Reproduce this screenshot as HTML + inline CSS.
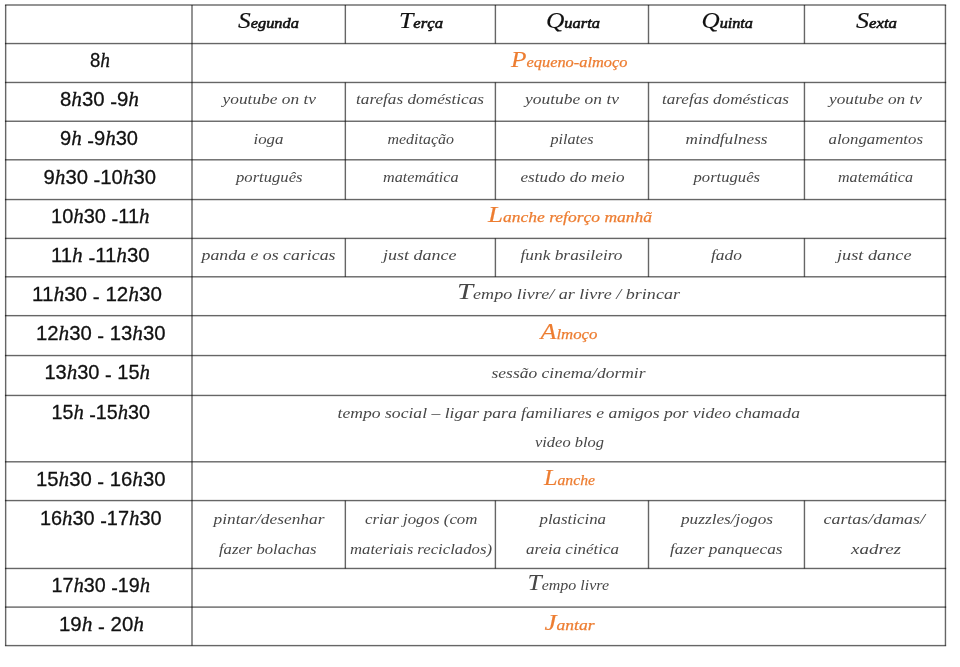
<!DOCTYPE html>
<html lang="pt"><head><meta charset="utf-8"><title>Horário</title>
<style>
html,body{margin:0;padding:0;background:#fff;}
body{width:960px;height:667px;overflow:hidden;}
svg{display:block;}
.tm{font-family:"Liberation Sans",sans-serif;font-size:21px;fill:#111;stroke:#111;stroke-width:0.3px;}
.hd{font-family:"Liberation Serif",serif;font-style:italic;font-size:15.5px;fill:#111;stroke:#111;stroke-width:0.6px;}
.bd{font-family:"Liberation Serif",serif;font-style:italic;font-size:15px;fill:#474747;}
.or{font-family:"Liberation Serif",serif;font-style:italic;font-size:15.5px;fill:#ED7D31;stroke:#ED7D31;stroke-width:0.25px;}
.cap{font-size:24px;stroke-width:0.15px;}
.hh{font-family:"Liberation Serif",serif;font-style:italic;font-size:22px;}
</style></head>
<body>
<svg width="960" height="667" viewBox="0 0 960 667">
<rect x="4.95" y="4.30" width="941.20" height="1.4" fill="#000" fill-opacity="0.6"/>
<rect x="4.95" y="42.85" width="941.20" height="1.4" fill="#000" fill-opacity="0.6"/>
<rect x="4.95" y="81.77" width="941.20" height="1.4" fill="#000" fill-opacity="0.6"/>
<rect x="4.95" y="120.55" width="941.20" height="1.4" fill="#000" fill-opacity="0.6"/>
<rect x="4.95" y="159.10" width="941.20" height="1.4" fill="#000" fill-opacity="0.6"/>
<rect x="4.95" y="198.85" width="941.20" height="1.4" fill="#000" fill-opacity="0.6"/>
<rect x="4.95" y="237.70" width="941.20" height="1.4" fill="#000" fill-opacity="0.6"/>
<rect x="4.95" y="276.10" width="941.20" height="1.4" fill="#000" fill-opacity="0.6"/>
<rect x="4.95" y="314.95" width="941.20" height="1.4" fill="#000" fill-opacity="0.6"/>
<rect x="4.95" y="354.85" width="941.20" height="1.4" fill="#000" fill-opacity="0.6"/>
<rect x="4.95" y="394.75" width="941.20" height="1.4" fill="#000" fill-opacity="0.6"/>
<rect x="4.95" y="461.10" width="941.20" height="1.4" fill="#000" fill-opacity="0.6"/>
<rect x="4.95" y="499.87" width="941.20" height="1.4" fill="#000" fill-opacity="0.6"/>
<rect x="4.95" y="567.77" width="941.20" height="1.4" fill="#000" fill-opacity="0.6"/>
<rect x="4.95" y="606.40" width="941.20" height="1.4" fill="#000" fill-opacity="0.6"/>
<rect x="4.95" y="644.90" width="941.20" height="1.4" fill="#000" fill-opacity="0.6"/>
<rect x="4.95" y="5.00" width="1.4" height="640.60" fill="#000" fill-opacity="0.6"/>
<rect x="191.30" y="5.00" width="1.4" height="640.60" fill="#000" fill-opacity="0.6"/>
<rect x="944.75" y="5.00" width="1.4" height="640.60" fill="#000" fill-opacity="0.6"/>
<rect x="344.65" y="5.00" width="1.4" height="38.55" fill="#000" fill-opacity="0.6"/>
<rect x="494.70" y="5.00" width="1.4" height="38.55" fill="#000" fill-opacity="0.6"/>
<rect x="647.80" y="5.00" width="1.4" height="38.55" fill="#000" fill-opacity="0.6"/>
<rect x="803.75" y="5.00" width="1.4" height="38.55" fill="#000" fill-opacity="0.6"/>
<rect x="344.65" y="82.47" width="1.4" height="38.78" fill="#000" fill-opacity="0.6"/>
<rect x="494.70" y="82.47" width="1.4" height="38.78" fill="#000" fill-opacity="0.6"/>
<rect x="647.80" y="82.47" width="1.4" height="38.78" fill="#000" fill-opacity="0.6"/>
<rect x="803.75" y="82.47" width="1.4" height="38.78" fill="#000" fill-opacity="0.6"/>
<rect x="344.65" y="121.25" width="1.4" height="38.55" fill="#000" fill-opacity="0.6"/>
<rect x="494.70" y="121.25" width="1.4" height="38.55" fill="#000" fill-opacity="0.6"/>
<rect x="647.80" y="121.25" width="1.4" height="38.55" fill="#000" fill-opacity="0.6"/>
<rect x="803.75" y="121.25" width="1.4" height="38.55" fill="#000" fill-opacity="0.6"/>
<rect x="344.65" y="159.80" width="1.4" height="39.75" fill="#000" fill-opacity="0.6"/>
<rect x="494.70" y="159.80" width="1.4" height="39.75" fill="#000" fill-opacity="0.6"/>
<rect x="647.80" y="159.80" width="1.4" height="39.75" fill="#000" fill-opacity="0.6"/>
<rect x="803.75" y="159.80" width="1.4" height="39.75" fill="#000" fill-opacity="0.6"/>
<rect x="344.65" y="238.40" width="1.4" height="38.40" fill="#000" fill-opacity="0.6"/>
<rect x="494.70" y="238.40" width="1.4" height="38.40" fill="#000" fill-opacity="0.6"/>
<rect x="647.80" y="238.40" width="1.4" height="38.40" fill="#000" fill-opacity="0.6"/>
<rect x="803.75" y="238.40" width="1.4" height="38.40" fill="#000" fill-opacity="0.6"/>
<rect x="344.65" y="500.57" width="1.4" height="67.90" fill="#000" fill-opacity="0.6"/>
<rect x="494.70" y="500.57" width="1.4" height="67.90" fill="#000" fill-opacity="0.6"/>
<rect x="647.80" y="500.57" width="1.4" height="67.90" fill="#000" fill-opacity="0.6"/>
<rect x="803.75" y="500.57" width="1.4" height="67.90" fill="#000" fill-opacity="0.6"/>
<text class="hd" x="238" y="27.6" textLength="61.0" lengthAdjust="spacingAndGlyphs"><tspan class="cap">S</tspan>egunda</text>
<text class="hd" x="399" y="27.6" textLength="44.0" lengthAdjust="spacingAndGlyphs"><tspan class="cap">T</tspan>erça</text>
<text class="hd" x="546" y="27.6" textLength="54.0" lengthAdjust="spacingAndGlyphs"><tspan class="cap">Q</tspan>uarta</text>
<text class="hd" x="701.5" y="27.6" textLength="51.5" lengthAdjust="spacingAndGlyphs"><tspan class="cap">Q</tspan>uinta</text>
<text class="hd" x="856" y="27.6" textLength="41.0" lengthAdjust="spacingAndGlyphs"><tspan class="cap">S</tspan>exta</text>
<text class="tm" x="90" y="66.5" textLength="20.0" lengthAdjust="spacingAndGlyphs">8<tspan class="hh">h</tspan></text>
<text class="tm" x="60" y="105.5" textLength="79.0" lengthAdjust="spacingAndGlyphs">8<tspan class="hh">h</tspan>30 <tspan dy="3.2">-</tspan><tspan dy="-3.2">9<tspan class="hh">h</tspan></tspan></text>
<text class="tm" x="60" y="144.5" textLength="78.0" lengthAdjust="spacingAndGlyphs">9<tspan class="hh">h</tspan> <tspan dy="3.2">-</tspan><tspan dy="-3.2">9<tspan class="hh">h</tspan>30</tspan></text>
<text class="tm" x="43.5" y="183.5" textLength="112.5" lengthAdjust="spacingAndGlyphs">9<tspan class="hh">h</tspan>30 <tspan dy="3.2">-</tspan><tspan dy="-3.2">10<tspan class="hh">h</tspan>30</tspan></text>
<text class="tm" x="51" y="222.5" textLength="98.5" lengthAdjust="spacingAndGlyphs">10<tspan class="hh">h</tspan>30 <tspan dy="3.2">-</tspan><tspan dy="-3.2">11<tspan class="hh">h</tspan></tspan></text>
<text class="tm" x="51" y="261.5" textLength="98.5" lengthAdjust="spacingAndGlyphs">11<tspan class="hh">h</tspan> <tspan dy="3.2">-</tspan><tspan dy="-3.2">11<tspan class="hh">h</tspan>30</tspan></text>
<text class="tm" x="32" y="300.5" textLength="130.0" lengthAdjust="spacingAndGlyphs">11<tspan class="hh">h</tspan>30 <tspan dy="3.2">-</tspan><tspan dy="-3.2"> 12<tspan class="hh">h</tspan>30</tspan></text>
<text class="tm" x="36" y="339.5" textLength="129.5" lengthAdjust="spacingAndGlyphs">12<tspan class="hh">h</tspan>30 <tspan dy="3.2">-</tspan><tspan dy="-3.2"> 13<tspan class="hh">h</tspan>30</tspan></text>
<text class="tm" x="44.5" y="378.5" textLength="105.5" lengthAdjust="spacingAndGlyphs">13<tspan class="hh">h</tspan>30 <tspan dy="3.2">-</tspan><tspan dy="-3.2"> 15<tspan class="hh">h</tspan></tspan></text>
<text class="tm" x="51.5" y="418.5" textLength="98.5" lengthAdjust="spacingAndGlyphs">15<tspan class="hh">h</tspan> <tspan dy="3.2">-</tspan><tspan dy="-3.2">15<tspan class="hh">h</tspan>30</tspan></text>
<text class="tm" x="36" y="485.5" textLength="129.5" lengthAdjust="spacingAndGlyphs">15<tspan class="hh">h</tspan>30 <tspan dy="3.2">-</tspan><tspan dy="-3.2"> 16<tspan class="hh">h</tspan>30</tspan></text>
<text class="tm" x="40" y="524.5" textLength="121.5" lengthAdjust="spacingAndGlyphs">16<tspan class="hh">h</tspan>30 <tspan dy="3.2">-</tspan><tspan dy="-3.2">17<tspan class="hh">h</tspan>30</tspan></text>
<text class="tm" x="51.5" y="591.5" textLength="98.5" lengthAdjust="spacingAndGlyphs">17<tspan class="hh">h</tspan>30 <tspan dy="3.2">-</tspan><tspan dy="-3.2">19<tspan class="hh">h</tspan></tspan></text>
<text class="tm" x="59" y="630.5" textLength="85.0" lengthAdjust="spacingAndGlyphs">19<tspan class="hh">h</tspan> <tspan dy="3.2">-</tspan><tspan dy="-3.2"> 20<tspan class="hh">h</tspan></tspan></text>
<text class="or" x="511" y="66.7" textLength="116.5" lengthAdjust="spacingAndGlyphs"><tspan class="cap">P</tspan>equeno-almoço</text>
<text class="bd" x="222.5" y="104.2" textLength="93.5" lengthAdjust="spacingAndGlyphs">youtube on tv</text>
<text class="bd" x="356" y="104.2" textLength="128.0" lengthAdjust="spacingAndGlyphs">tarefas domésticas</text>
<text class="bd" x="525" y="104.2" textLength="94.0" lengthAdjust="spacingAndGlyphs">youtube on tv</text>
<text class="bd" x="662" y="104.2" textLength="127.0" lengthAdjust="spacingAndGlyphs">tarefas domésticas</text>
<text class="bd" x="829" y="104.2" textLength="93.0" lengthAdjust="spacingAndGlyphs">youtube on tv</text>
<text class="bd" x="253.5" y="143.5" textLength="30.0" lengthAdjust="spacingAndGlyphs">ioga</text>
<text class="bd" x="387.5" y="143.5" textLength="66.5" lengthAdjust="spacingAndGlyphs">meditação</text>
<text class="bd" x="550.5" y="143.5" textLength="43.0" lengthAdjust="spacingAndGlyphs">pilates</text>
<text class="bd" x="685.5" y="143.5" textLength="82.0" lengthAdjust="spacingAndGlyphs">mindfulness</text>
<text class="bd" x="828.5" y="143.5" textLength="94.5" lengthAdjust="spacingAndGlyphs">alongamentos</text>
<text class="bd" x="236" y="182.3" textLength="66.5" lengthAdjust="spacingAndGlyphs">português</text>
<text class="bd" x="383" y="182.3" textLength="75.5" lengthAdjust="spacingAndGlyphs">matemática</text>
<text class="bd" x="520.5" y="182.3" textLength="104.0" lengthAdjust="spacingAndGlyphs">estudo do meio</text>
<text class="bd" x="693.5" y="182.3" textLength="66.5" lengthAdjust="spacingAndGlyphs">português</text>
<text class="bd" x="838" y="182.3" textLength="75.0" lengthAdjust="spacingAndGlyphs">matemática</text>
<text class="or" x="488" y="222.3" textLength="164.0" lengthAdjust="spacingAndGlyphs"><tspan class="cap">L</tspan>anche reforço manhã</text>
<text class="bd" x="201.5" y="260.2" textLength="134.0" lengthAdjust="spacingAndGlyphs">panda e os caricas</text>
<text class="bd" x="383" y="260.2" textLength="73.5" lengthAdjust="spacingAndGlyphs">just dance</text>
<text class="bd" x="520.5" y="260.2" textLength="102.0" lengthAdjust="spacingAndGlyphs">funk brasileiro</text>
<text class="bd" x="711" y="260.2" textLength="31.0" lengthAdjust="spacingAndGlyphs">fado</text>
<text class="bd" x="837" y="260.2" textLength="74.5" lengthAdjust="spacingAndGlyphs">just dance</text>
<text class="bd" x="457" y="299.3" textLength="223.0" lengthAdjust="spacingAndGlyphs"><tspan class="cap">T</tspan>empo livre/ ar livre / brincar</text>
<text class="or" x="540.5" y="338.5" textLength="57.0" lengthAdjust="spacingAndGlyphs"><tspan class="cap">A</tspan>lmoço</text>
<text class="bd" x="491.5" y="377.5" textLength="154.0" lengthAdjust="spacingAndGlyphs">sessão cinema/dormir</text>
<text class="bd" x="337.5" y="417.7" textLength="462.5" lengthAdjust="spacingAndGlyphs">tempo social – ligar para familiares e amigos por video chamada</text>
<text class="bd" x="535" y="447" textLength="69.0" lengthAdjust="spacingAndGlyphs">video blog</text>
<text class="or" x="544" y="484.5" textLength="51.0" lengthAdjust="spacingAndGlyphs"><tspan class="cap">L</tspan>anche</text>
<text class="bd" x="213.5" y="523.6" textLength="111.0" lengthAdjust="spacingAndGlyphs">pintar/desenhar</text>
<text class="bd" x="219" y="553.5" textLength="97.5" lengthAdjust="spacingAndGlyphs">fazer bolachas</text>
<text class="bd" x="365" y="523.6" textLength="112.5" lengthAdjust="spacingAndGlyphs">criar jogos (com</text>
<text class="bd" x="350" y="553.5" textLength="142.0" lengthAdjust="spacingAndGlyphs">materiais reciclados)</text>
<text class="bd" x="539.5" y="523.6" textLength="66.5" lengthAdjust="spacingAndGlyphs">plasticina</text>
<text class="bd" x="526" y="553.5" textLength="93.0" lengthAdjust="spacingAndGlyphs">areia cinética</text>
<text class="bd" x="681" y="523.6" textLength="92.0" lengthAdjust="spacingAndGlyphs">puzzles/jogos</text>
<text class="bd" x="670" y="553.5" textLength="112.5" lengthAdjust="spacingAndGlyphs">fazer panquecas</text>
<text class="bd" x="823.5" y="523.6" textLength="101.5" lengthAdjust="spacingAndGlyphs">cartas/damas/</text>
<text class="bd" x="851" y="553.5" textLength="50.0" lengthAdjust="spacingAndGlyphs">xadrez</text>
<text class="bd" x="527.5" y="590" textLength="81.5" lengthAdjust="spacingAndGlyphs"><tspan class="cap">T</tspan>empo livre</text>
<text class="or" x="544.5" y="629.6" textLength="50.0" lengthAdjust="spacingAndGlyphs"><tspan class="cap">J</tspan>antar</text>
</svg>
</body></html>
